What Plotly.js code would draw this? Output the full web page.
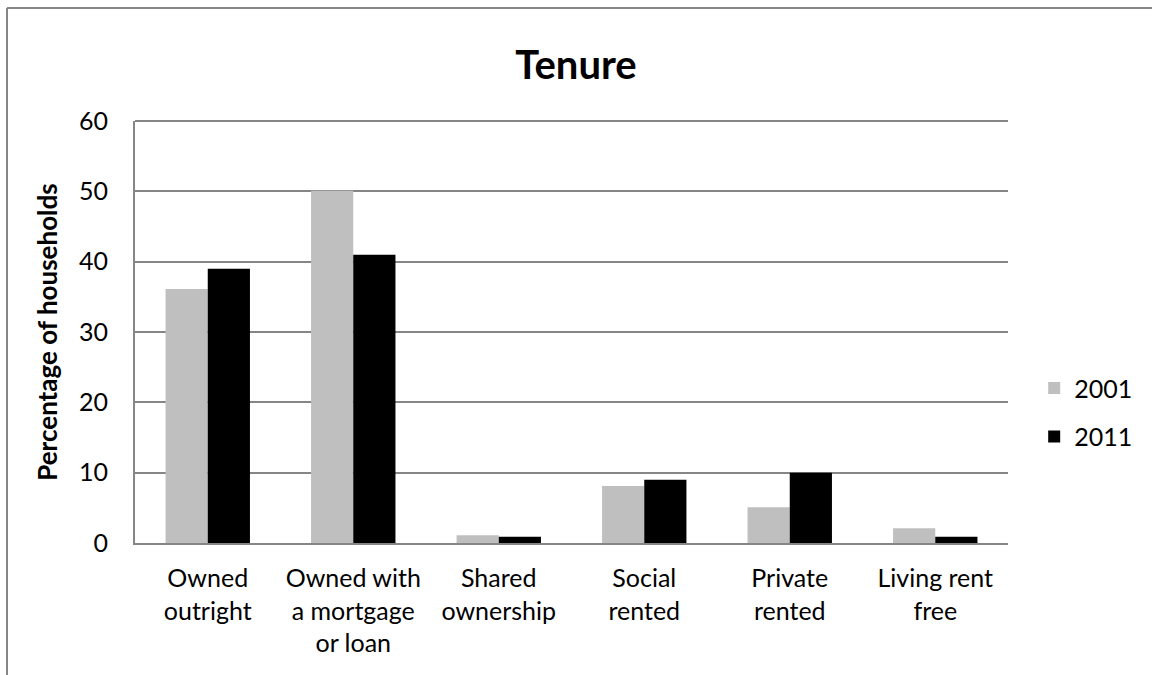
<!DOCTYPE html>
<html>
<head>
<meta charset="utf-8">
<script src="https://cdn.plot.ly/plotly-3.0.1.min.js"></script>
<style>
  html, body { margin: 0; padding: 0; background: #fff; }
  #chart { width: 1152px; height: 675px; }
</style>
</head>
<body>
<div id="chart"></div>
<script>
const categories = [
  "Owned<br>outright",
  "Owned with<br>a mortgage<br>or loan",
  "Shared<br>ownership",
  "Social<br>rented",
  "Private<br>rented",
  "Living rent<br>free"
];
const values2001 = [36.1, 50.1, 1.1, 8.1, 5.1, 2.1];
const values2011 = [39.0, 41.0, 0.9, 9.0, 10.0, 0.9];
const seriesNames = ["2001", "2011"];
const yTicks = [0, 10, 20, 30, 40, 50, 60];

const FONT = "Lato, 'Open Sans', sans-serif";
const GRID = "#868686";

const traces = [
  {
    type: "bar", name: seriesNames[0], x: categories, y: values2001,
    legendgroup: "a",
    marker: { color: "#BFBFBF" }, hoverinfo: "y"
  },
  {
    type: "bar", name: seriesNames[1], x: categories, y: values2011,
    legendgroup: "b",
    marker: { color: "#000000" }, hoverinfo: "y"
  }
];

const layout = {
  width: 1152, height: 675,
  paper_bgcolor: "#fff", plot_bgcolor: "#fff",
  margin: { l: 135, r: 144, t: 121, b: 132, pad: 0 },
  font: { family: FONT, color: "#000", size: 25 },
  title: {
    text: "<b>Tenure</b>",
    font: { family: FONT, size: 40, color: "#000" },
    x: 0.5, xanchor: "center", y: 0.903, yanchor: "middle"
  },
  barmode: "group",
  bargap: 0.42,
  bargroupgap: 0,
  showlegend: true,
  legend: {
    x: 1.03, xanchor: "left", y: 0.31, yanchor: "middle",
    font: { family: FONT, size: 25, color: "#000" },
    traceorder: "grouped", tracegroupgap: 13,
    itemwidth: 30,
    bgcolor: "rgba(0,0,0,0)"
  },
  xaxis: {
    type: "category",
    showgrid: false,
    showline: true, linecolor: GRID, linewidth: 2,
    ticks: "", ticklabelstandoff: 12,
    tickfont: { family: FONT, size: 25, color: "#000" },
    zeroline: false
  },
  yaxis: {
    range: [0, 60],
    tickvals: yTicks,
    ticktext: yTicks.map(String),
    showgrid: true, gridcolor: GRID, gridwidth: 2,
    showline: true, linecolor: GRID, linewidth: 2,
    zeroline: false,
    ticks: "", ticklabelstandoff: 20,
    tickfont: { family: FONT, size: 25, color: "#000" },
    title: {
      text: "<b>Percentage of households</b>",
      font: { family: FONT, size: 26, color: "#000" },
      standoff: 14
    }
  },
  shapes: [
    { type: "line", xref: "paper", yref: "paper",
      x0: 0, x1: 1, y0: 1, y1: 1,
      line: { color: GRID, width: 2 } },
    { type: "line", xref: "paper", yref: "paper",
      x0: (7 - 135) / 873, x1: (7 - 135) / 873,
      y0: (675 - 132 - 8) / 422, y1: -132 / 422,
      line: { color: GRID, width: 2 } },
    { type: "line", xref: "paper", yref: "paper",
      x0: (7 - 135) / 873, x1: (1152 - 135) / 873,
      y0: (675 - 132 - 8) / 422, y1: (675 - 132 - 8) / 422,
      line: { color: GRID, width: 2 } }
  ]
};

Plotly.newPlot("chart", traces, layout, { displayModeBar: false, staticPlot: true });
</script>
</body>
</html>
